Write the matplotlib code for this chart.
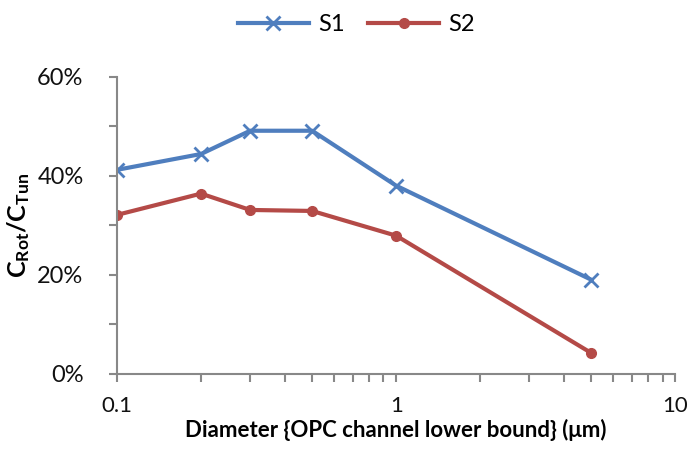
import matplotlib
matplotlib.use("Agg")
import matplotlib.pyplot as plt
from matplotlib.ticker import FixedLocator, FuncFormatter, LogLocator, NullFormatter

plt.rcParams['font.family'] = ['Lato', 'DejaVu Sans']
plt.rcParams['mathtext.fontset'] = 'custom'
plt.rcParams['mathtext.rm'] = 'Lato:bold'
plt.rcParams['mathtext.bf'] = 'Lato:bold'
plt.rcParams['mathtext.it'] = 'Lato:bold'

diam = [0.1, 0.2, 0.3, 0.5, 1, 5]
s1 = [41.2, 44.4, 49.1, 49.1, 38.0, 19.0]
s2 = [32.1, 36.4, 33.1, 32.9, 27.9, 4.2]
series_names = ["S1", "S2"]
yticks = [0, 20, 40, 60]
xticks = [0.1, 1, 10]
xtick_labels = ["0.1", "1", "10"]

fig = plt.figure(figsize=(6.92, 4.57), dpi=100)
ax = fig.add_axes([0.169, 0.182, 0.807, 0.65])

blue = "#4F7EBE"
red = "#B44A47"
ax.plot(diam, s1, color=blue, lw=3.0, marker='x', ms=10, mew=2.0, label=series_names[0])
ax.plot(diam, s2, color=red, lw=3.0, marker='o', ms=7, label=series_names[1])

ax.set_xscale('log')
ax.set_xlim(0.1, 10)
ax.set_ylim(0, 60)
ax.set_xticks(xticks)
ax.set_xticklabels(xtick_labels)
ax.xaxis.set_minor_locator(LogLocator(base=10, subs=range(2, 10)))
ax.xaxis.set_minor_formatter(NullFormatter())
ax.set_yticks(yticks)
ax.yaxis.set_major_formatter(FuncFormatter(lambda v, p: f"{v:.0f}%"))
ax.yaxis.set_minor_locator(FixedLocator([10, 30, 50]))

for s in ['top', 'right']:
    ax.spines[s].set_visible(False)
for s in ['left', 'bottom']:
    ax.spines[s].set_color('#888888')
    ax.spines[s].set_linewidth(1.5)
ax.tick_params(which='both', direction='out', color='#888888', width=1.5, length=6,
               labelsize=17, labelcolor='#111111')
ax.tick_params(axis='x', pad=10, labelsize=16)
ax.tick_params(axis='y', pad=18)

ax.set_xlabel("Diameter {OPC channel lower bound} (\u03bcm)", fontsize=16, fontweight='bold', labelpad=2)
ax.set_ylabel(r"$\mathbf{C}_{\mathbf{Rot}}\mathbf{/C}_{\mathbf{Tun}}$", fontsize=18, labelpad=4)

fig.legend(loc='upper center', bbox_to_anchor=(0.515, 1.015), ncol=2, frameon=False,
           fontsize=17, handlelength=3.0, columnspacing=1.0, handletextpad=0.4)

fig.savefig("out.png", dpi=100)
